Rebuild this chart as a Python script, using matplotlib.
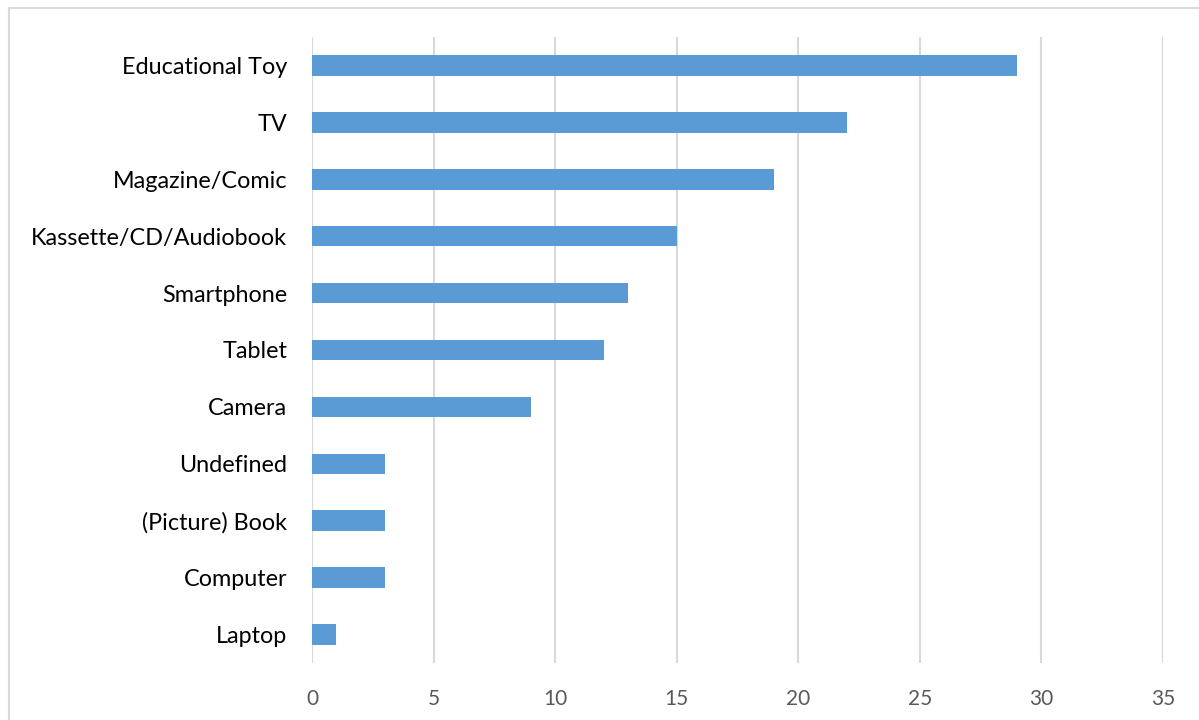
import matplotlib
matplotlib.use("Agg")
import matplotlib.pyplot as plt
from matplotlib.patches import Rectangle

categories = ["Educational Toy", "TV", "Magazine/Comic", "Kassette/CD/Audiobook",
              "Smartphone", "Tablet", "Camera", "Undefined", "(Picture) Book",
              "Computer", "Laptop"]
values = [29, 22, 19, 15, 13, 12, 9, 3, 3, 3, 1]
x_ticks = [0, 5, 10, 15, 20, 25, 30, 35]

plt.rcParams["font.family"] = ["Lato", "DejaVu Sans"]

W, H = 1199, 720
fig = plt.figure(figsize=(W / 100, H / 100), dpi=100)
fig.patch.set_facecolor("white")

# chart frame
fig.add_artist(Rectangle((9 / W, -0.05), 1.1, 1 - 8 / H + 0.05,
                         transform=fig.transFigure, fill=False,
                         edgecolor="#D9D9D9", linewidth=1.5))

ax = fig.add_axes([312 / W, 1 - 663 / H, (1163 - 312) / W, (663 - 37) / H])
n = len(categories)
ypos = list(range(n))
ax.barh(ypos, values, height=0.36, color="#5B9BD5", zorder=3)
ax.set_ylim(n - 0.5, -0.5)
ax.set_xlim(0, 35)
ax.set_xticks(x_ticks)
ax.set_xticklabels([str(t) for t in x_ticks], fontsize=15, color="#595959")
ax.set_yticks(ypos)
ax.set_yticklabels(categories, fontsize=16.8, color="#000000")
ax.tick_params(axis="both", length=0)
ax.tick_params(axis="y", pad=18)
ax.tick_params(axis="x", pad=19)
ax.xaxis.grid(True, color="#D9D9D9", linewidth=1.5, zorder=0)
for s in ax.spines.values():
    s.set_visible(False)
ax.axvline(0, color="#D9D9D9", linewidth=1.5, zorder=2)

fig.savefig("out.png", dpi=100)
